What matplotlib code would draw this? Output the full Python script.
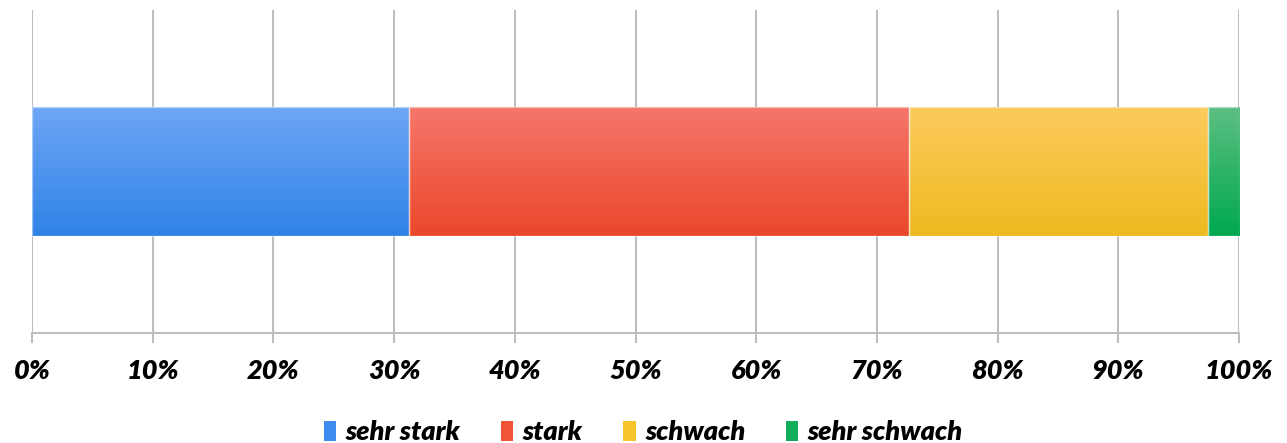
import numpy as np
import matplotlib.pyplot as plt
from matplotlib.patches import Patch
from matplotlib.colors import LinearSegmentedColormap

plt.rcParams['font.family'] = ['Lato', 'DejaVu Sans']

# data
categories = ['sehr stark', 'stark', 'schwach', 'sehr schwach']
shares = [31.2, 41.5, 24.7, 2.6]  # percent
xticks = [0, 10, 20, 30, 40, 50, 60, 70, 80, 90, 100]

# colours (top of bar -> bottom of bar) and legend swatch
tops = ['#6ea6f6', '#f6776c', '#fdcb5e', '#5dbf82']
bottoms = ['#2f83e6', '#ea4729', '#efb91f', '#00a84f']
swatch = ['#3b8ced', '#ef5437', '#f7c42a', '#12ad5a']

fig = plt.figure(figsize=(12.87, 4.43), dpi=100)
ax = fig.add_axes([32/1287, 110/443, 1207/1287, 323/443])

left = 0
for i, v in enumerate(shares):
    bar = ax.barh(0, v, left=left, height=0.4, color='none',
                  edgecolor=(1, 1, 1, 0.45), linewidth=1, zorder=3)[0]
    cmap = LinearSegmentedColormap.from_list('g%d' % i, [bottoms[i], tops[i]])
    grad = np.linspace(0, 1, 256).reshape(-1, 1)
    im = ax.imshow(grad, cmap=cmap, aspect='auto', origin='lower',
                   extent=(left, left + v, -0.2, 0.2), zorder=2)
    im.set_clip_path(bar)
    left += v

ax.set_xlim(0, 100)
ax.set_ylim(-0.5, 0.5)

ax.set_xticks(xticks)
ax.set_xticklabels(['%d%%' % t for t in xticks])
ax.set_yticks([])
ax.grid(axis='x', color='#bdbdbd', linewidth=1.5, zorder=0)
ax.set_axisbelow(True)
for s in ['top', 'right', 'left']:
    ax.spines[s].set_visible(False)
ax.spines['bottom'].set_color('#bdbdbd')
ax.spines['bottom'].set_linewidth(1.5)
ax.tick_params(axis='x', length=7, width=1.5, color='#bdbdbd', pad=12)
for lab in ax.get_xticklabels():
    lab.set_fontsize(19.5)
    lab.set_fontweight('heavy')
    lab.set_fontstyle('italic')

handles = [Patch(facecolor=swatch[i], label=categories[i]) for i in range(4)]
fig.legend(handles=handles, loc='lower center', ncol=4, frameon=False,
           bbox_to_anchor=(0.5, -0.058), handlelength=0.45, handleheight=0.75,
           handletextpad=0.35, columnspacing=1.5,
           prop={'size': 19.5, 'weight': 'heavy', 'style': 'italic'})

fig.savefig('out.png', dpi=100)
